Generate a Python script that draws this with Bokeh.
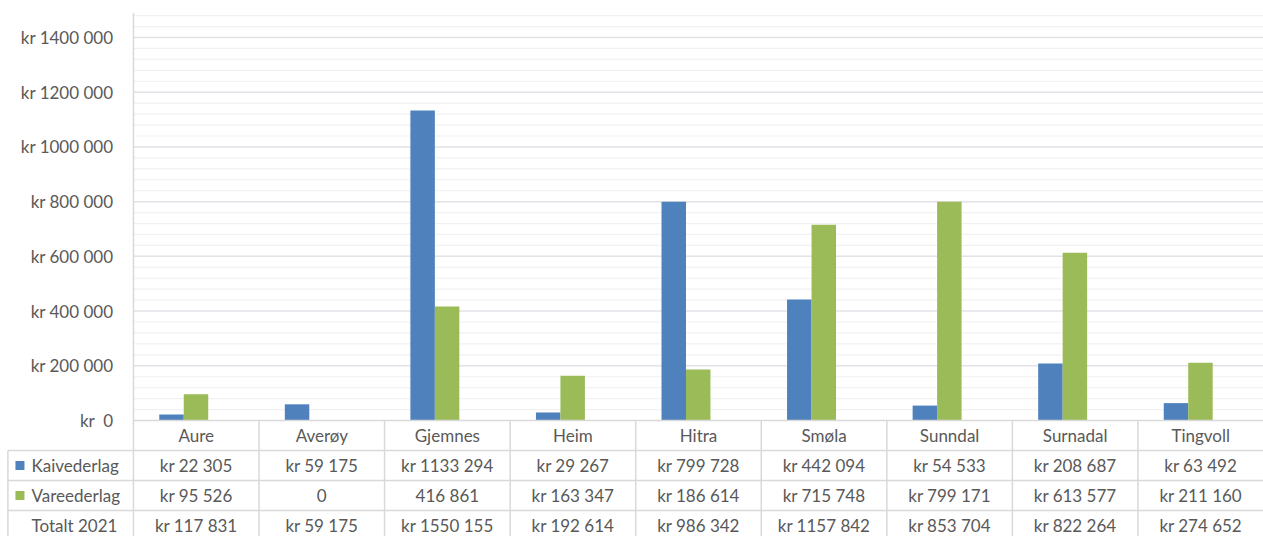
from bokeh.plotting import figure
from bokeh.models import Range1d
from bokeh.core.properties import value
from bokeh.embed import file_html
from bokeh.resources import INLINE

# ---------------- data ----------------
categories = ["Aure", "Averøy", "Gjemnes", "Heim", "Hitra", "Smøla", "Sunndal", "Surnadal", "Tingvoll"]
kaivederlag = [22305, 59175, 1133294, 29267, 799728, 442094, 54533, 208687, 63492]
vareederlag = [95526, 0, 416861, 163347, 186614, 715748, 799171, 613577, 211160]
vare_kr_prefix = [True, False, False, True, True, True, True, True, True]
series_names = ["Kaivederlag", "Vareederlag", "Totalt 2021"]
y_ticks = [0, 200000, 400000, 600000, 800000, 1000000, 1200000, 1400000]
y_tick_labels = ["kr \u00a00", "kr 200 000", "kr 400 000", "kr 600 000", "kr 800 000",
                 "kr 1000 000", "kr 1200 000", "kr 1400 000"]
totalt = [k + v for k, v in zip(kaivederlag, vareederlag)]

# ---------------- style ----------------
BLUE = "#4F81BD"
GREEN = "#9BBB59"
TXT = "#595959"
BORDER = "#D9D9D9"
MAJOR = "#E2E2E8"
MINOR = "#F1F1F1"
FONT = value("Lato")
FSIZE = "17px"

VPP = 1.4e6 / 383.0          # value units per pixel vertically
ROW = 30 * VPP               # table row height
Y_TOP = 1490000              # top of plot area
N = len(categories)
LEFT = -1.0                  # left border of table


def fmt(v, kr=True):
    s = f"{v // 1000} {v % 1000:03d}" if v >= 1000 else str(v)
    return ("kr " + s) if kr else s


p = figure(width=1263, height=536, output_backend="svg", toolbar_location=None,
           x_range=Range1d(-133 / 125.6, N), y_range=Range1d(-116 * VPP, 420 * VPP),
           min_border=0, min_border_left=0, min_border_right=0,
           min_border_top=0, min_border_bottom=0)
p.axis.visible = False
p.grid.visible = False
p.outline_line_color = None
p.background_fill_color = "white"
p.border_fill_color = "white"

# gridlines
minor_vals = [v for v in range(40000, 1480001, 40000) if v % 200000 != 0]
p.segment(x0=[0] * len(minor_vals), x1=[N] * len(minor_vals), y0=minor_vals, y1=minor_vals,
          line_color=MINOR, line_width=1.2)
major_vals = [v for v in y_ticks if v > 0]
p.segment(x0=[0] * len(major_vals), x1=[N] * len(major_vals), y0=major_vals, y1=major_vals,
          line_color=MAJOR, line_width=1.5)

# bars
idx = list(range(N))
p.vbar(x=[i + 0.303 for i in idx], top=kaivederlag, bottom=0, width=0.195,
       fill_color=BLUE, line_color=None)
p.vbar(x=[i + 0.498 for i in idx], top=vareederlag, bottom=0, width=0.195,
       fill_color=GREEN, line_color=None)

# y axis line + tick labels
p.segment(x0=[0], x1=[0], y0=[Y_TOP], y1=[-4 * ROW], line_color=BORDER, line_width=1.5)
p.text(x=[-0.16] * len(y_ticks), y=y_ticks, text=y_tick_labels, text_align="right",
       text_baseline="middle", text_font=FONT, text_font_size=FSIZE, text_color=TXT)

# table borders
p.segment(x0=[0], x1=[N], y0=[0], y1=[0], line_color=BORDER, line_width=1.5)
hy = [-ROW * k for k in (1, 2, 3)]
p.segment(x0=[LEFT] * 3, x1=[N] * 3, y0=hy, y1=hy, line_color=BORDER, line_width=1.5)
vx = list(range(1, N))
p.segment(x0=vx, x1=vx, y0=[0] * len(vx), y1=[-4 * ROW] * len(vx), line_color=BORDER, line_width=1.5)
p.segment(x0=[LEFT], x1=[LEFT], y0=[-ROW], y1=[-4 * ROW], line_color=BORDER, line_width=1.5)

# table texts
cx = [i + 0.5 for i in idx]
rows = [
    categories,
    [fmt(v) for v in kaivederlag],
    [fmt(v, k) for v, k in zip(vareederlag, vare_kr_prefix)],
    [fmt(v) for v in totalt],
]
for r, texts in enumerate(rows):
    p.text(x=cx, y=[-(15 + 30 * r) * VPP] * N, text=texts, text_align="center",
           text_baseline="middle", text_font=FONT, text_font_size=FSIZE, text_color=TXT)

# legend column
leg_y = [-(15 + 30 * (r + 1)) * VPP for r in range(3)]
p.scatter(x=[-0.904] * 2, y=leg_y[:2], marker="square", size=9,
          fill_color=[BLUE, GREEN], line_color=None)
p.text(x=[-0.812] * 3, y=leg_y, text=series_names, text_align="left",
       text_baseline="middle", text_font=FONT, text_font_size=FSIZE, text_color=TXT)

open("out.html", "w").write(file_html(p, INLINE))
